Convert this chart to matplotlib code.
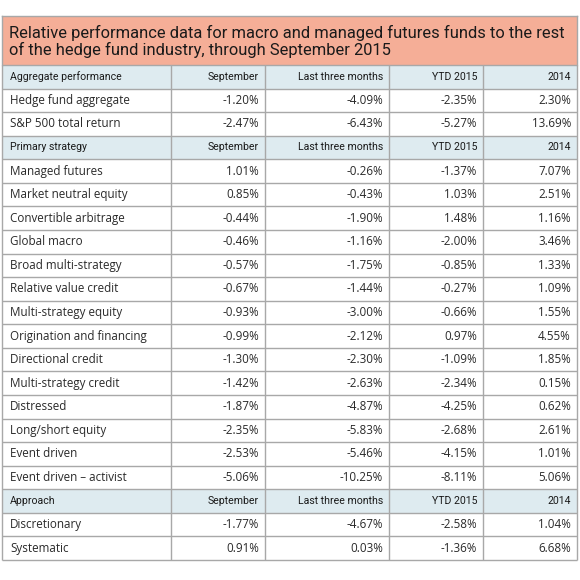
import matplotlib
matplotlib.use("Agg")
import matplotlib.pyplot as plt
from matplotlib.patches import Rectangle

title = "Relative performance data for macro and managed futures funds to the rest\nof the hedge fund industry, through September 2015"
columns = ["September", "Last three months", "YTD 2015", "2014"]

section_names = ["Aggregate performance", "Primary strategy", "Approach"]

aggregate_labels = ["Hedge fund aggregate", "S&P 500 total return"]
aggregate_values = [
    ["-1.20%", "-4.09%", "-2.35%", "2.30%"],
    ["-2.47%", "-6.43%", "-5.27%", "13.69%"],
]

strategy_labels = [
    "Managed futures", "Market neutral equity", "Convertible arbitrage", "Global macro",
    "Broad multi-strategy", "Relative value credit", "Multi-strategy equity",
    "Origination and financing", "Directional credit", "Multi-strategy credit",
    "Distressed", "Long/short equity", "Event driven", "Event driven \u2013 activist",
]
strategy_values = [
    ["1.01%", "-0.26%", "-1.37%", "7.07%"],
    ["0.85%", "-0.43%", "1.03%", "2.51%"],
    ["-0.44%", "-1.90%", "1.48%", "1.16%"],
    ["-0.46%", "-1.16%", "-2.00%", "3.46%"],
    ["-0.57%", "-1.75%", "-0.85%", "1.33%"],
    ["-0.67%", "-1.44%", "-0.27%", "1.09%"],
    ["-0.93%", "-3.00%", "-0.66%", "1.55%"],
    ["-0.99%", "-2.12%", "0.97%", "4.55%"],
    ["-1.30%", "-2.30%", "-1.09%", "1.85%"],
    ["-1.42%", "-2.63%", "-2.34%", "0.15%"],
    ["-1.87%", "-4.87%", "-4.25%", "0.62%"],
    ["-2.35%", "-5.83%", "-2.68%", "2.61%"],
    ["-2.53%", "-5.46%", "-4.15%", "1.01%"],
    ["-5.06%", "-10.25%", "-8.11%", "5.06%"],
]

approach_labels = ["Discretionary", "Systematic"]
approach_values = [
    ["-1.77%", "-4.67%", "-2.58%", "1.04%"],
    ["0.91%", "0.03%", "-1.36%", "6.68%"],
]

sections = [
    (section_names[0], aggregate_labels, aggregate_values),
    (section_names[1], strategy_labels, strategy_values),
    (section_names[2], approach_labels, approach_values),
]

# layout (pixels)
W = H = 580
left, right = 2, 577
col_edges = [left, 171, 265, 389, 483, right]
title_top, title_bot = 16, 65
table_bot = 560
n_rows = sum(1 + len(s[1]) for s in sections)
row_h = (table_bot - title_bot) / n_rows

line_c = "#a8a8a8"
title_bg = "#f5ae97"
head_bg = "#deebf0"

fig = plt.figure(figsize=(5.8, 5.8), dpi=100)
ax = fig.add_axes([0, 0, 1, 1])
ax.set_xlim(0, W)
ax.set_ylim(H, 0)
ax.axis("off")

body_font = ["Open Sans", "DejaVu Sans"]
head_font = ["Roboto", "DejaVu Sans"]

# title
ax.add_patch(Rectangle((left, title_top), right - left, title_bot - title_top,
                       facecolor=title_bg, edgecolor="none"))
ax.text(9, (title_top + title_bot) / 2 + 1, title, ha="left", va="center",
        fontsize=11.9, family=["Roboto", "DejaVu Sans"], color="#1a1a1a",
        linespacing=1.12)

y = title_bot
for name, labels, values in sections:
    ax.add_patch(Rectangle((left, y), right - left, row_h, facecolor=head_bg, edgecolor="none"))
    yc = y + row_h / 2
    ax.text(col_edges[0] + 8, yc, name, ha="left", va="center", fontsize=7.6,
            family=head_font, color="#1a1a1a")
    for j, c in enumerate(columns):
        ax.text(col_edges[j + 2] - 6, yc, c, ha="right", va="center", fontsize=7.6,
                family=head_font, color="#1a1a1a")
    y += row_h
    for lab, vals in zip(labels, values):
        yc = y + row_h / 2
        ax.text(col_edges[0] + 8, yc, lab, ha="left", va="center", fontsize=8.4,
                family=body_font, color="#2a2a2a")
        for j, v in enumerate(vals):
            ax.text(col_edges[j + 2] - 6, yc, v, ha="right", va="center", fontsize=8.4,
                    family=body_font, color="#2a2a2a")
        y += row_h

# grid lines
for i in range(n_rows + 1):
    yy = title_bot + i * row_h
    ax.plot([left, right], [yy, yy], color=line_c, lw=1.0, solid_capstyle="butt")
for xx in col_edges:
    ax.plot([xx, xx], [title_bot, table_bot], color=line_c, lw=1.0, solid_capstyle="butt")
ax.plot([left, right], [title_top, title_top], color=line_c, lw=1.0)
ax.plot([left, left], [title_top, title_bot], color=line_c, lw=1.0)
ax.plot([right, right], [title_top, title_bot], color=line_c, lw=1.0)

fig.savefig("out.png", dpi=100, facecolor="white")
